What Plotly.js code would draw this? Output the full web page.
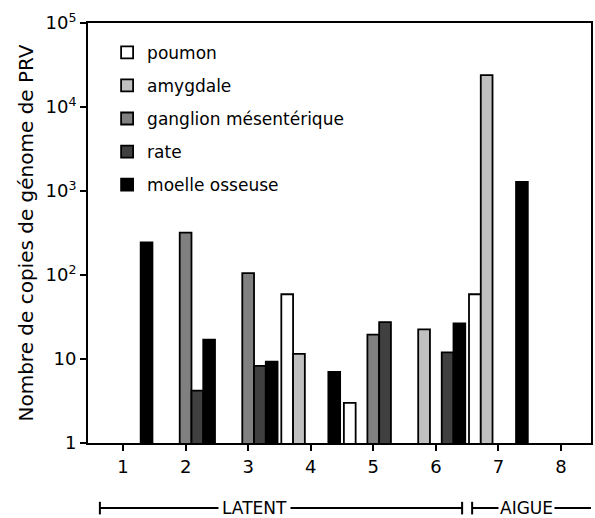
<!DOCTYPE html>
<html>
<head>
<meta charset="utf-8">
<script src="https://cdn.plot.ly/plotly-3.0.1.min.js"></script>
<style>html,body{margin:0;padding:0;background:#fff;}#chart{width:595px;height:518px;}</style>
</head>
<body>
<div id="chart"></div>
<script>
var groups = [1, 2, 3, 4, 5, 6, 7, 8];
var poumon   = [null, null, null, 59, 3, null, 59, null];
var amygdale = [null, null, null, 11.5, null, 22.5, 24000, null];
var ganglion = [null, 320, 105, null, 19.5, null, null, null];
var rate     = [null, 4.2, 8.3, null, 27.5, 12, null, null];
var moelle   = [245, 17, 9.3, 7, null, 26.5, 1280, null];

var seriesNames = ["poumon", "amygdale", "ganglion mésentérique", "rate", "moelle osseuse"];
var seriesValues = [poumon, amygdale, ganglion, rate, moelle];
var seriesColors = ["#ffffff", "#c0c0c0", "#808080", "#404040", "#000000"];

var yTickVals = [1, 10, 100, 1000, 10000, 100000];
var yTickText = ["1", "10", "10<sup>2</sup>", "10<sup>3</sup>", "10<sup>4</sup>", "10<sup>5</sup>"];

var FONT = "DejaVu Sans, sans-serif";

var traces = seriesNames.map(function (n, i) {
  return {
    type: "bar",
    name: n,
    x: groups,
    y: seriesValues[i],
    legendgroup: "g" + i,
    marker: { color: seriesColors[i], line: { color: "#000", width: 1.8 } }
  };
});

var layout = {
  width: 595, height: 518,
  margin: { l: 88, r: 4, t: 23, b: 75 },
  paper_bgcolor: "#fff", plot_bgcolor: "#fff",
  font: { family: FONT, size: 17, color: "#000" },
  barmode: "group", bargap: 0.06, bargroupgap: 0,
  showlegend: true,
  legend: {
    x: 0.038, y: 0.972, xanchor: "left", yanchor: "top",
    bgcolor: "rgba(0,0,0,0)", borderwidth: 0,
    font: { family: FONT, size: 17, color: "#000" },
    tracegroupgap: 8, traceorder: "grouped", itemwidth: 30
  },
  xaxis: {
    range: [0.44, 8.48],
    tickmode: "array", tickvals: groups, ticktext: groups.map(String),
    ticks: "outside", ticklen: 6, tickwidth: 2, tickcolor: "#000",
    showline: true, linecolor: "#000", linewidth: 2, mirror: true,
    showgrid: false, zeroline: false,
    tickfont: { family: FONT, size: 18, color: "#000" }
  },
  yaxis: {
    type: "log", range: [0, 5],
    tickmode: "array", tickvals: yTickVals, ticktext: yTickText,
    ticks: "outside", ticklen: 6, tickwidth: 2, tickcolor: "#000",
    showline: true, linecolor: "#000", linewidth: 2, mirror: true,
    showgrid: false, zeroline: false,
    tickfont: { family: FONT, size: 18, color: "#000" },
    title: { text: "Nombre de copies de génome de PRV", font: { family: FONT, size: 20, color: "#000" }, standoff: 6 }
  },
  shapes: [
    { type: "line", xref: "x", yref: "paper", x0: 0.63, x1: 6.42, y0: -0.155, y1: -0.155, line: { color: "#000", width: 2 } },
    { type: "line", xref: "x", yref: "paper", x0: 0.63, x1: 0.63, y0: -0.14, y1: -0.17, line: { color: "#000", width: 2 } },
    { type: "line", xref: "x", yref: "paper", x0: 6.42, x1: 6.42, y0: -0.14, y1: -0.17, line: { color: "#000", width: 2 } },
    { type: "line", xref: "x", yref: "paper", x0: 6.58, x1: 8.5, y0: -0.155, y1: -0.155, line: { color: "#000", width: 2 } },
    { type: "line", xref: "x", yref: "paper", x0: 6.58, x1: 6.58, y0: -0.14, y1: -0.17, line: { color: "#000", width: 2 } },
    { type: "line", xref: "x", yref: "paper", x0: 8.5, x1: 8.5, y0: -0.14, y1: -0.17, line: { color: "#000", width: 2 } }
  ],
  annotations: [
    { text: "LATENT", xref: "x", yref: "paper", x: 3.1, y: -0.155, yanchor: "middle", xanchor: "center", showarrow: false, bgcolor: "#fff", borderpad: 3, font: { family: FONT, size: 17, color: "#000" } },
    { text: "AIGUE", xref: "x", yref: "paper", x: 7.45, y: -0.155, yanchor: "middle", xanchor: "center", showarrow: false, bgcolor: "#fff", borderpad: 1, font: { family: FONT, size: 17, color: "#000" } }
  ]
};

Plotly.newPlot("chart", traces, layout, { displayModeBar: false, staticPlot: true });
</script>
</body>
</html>
